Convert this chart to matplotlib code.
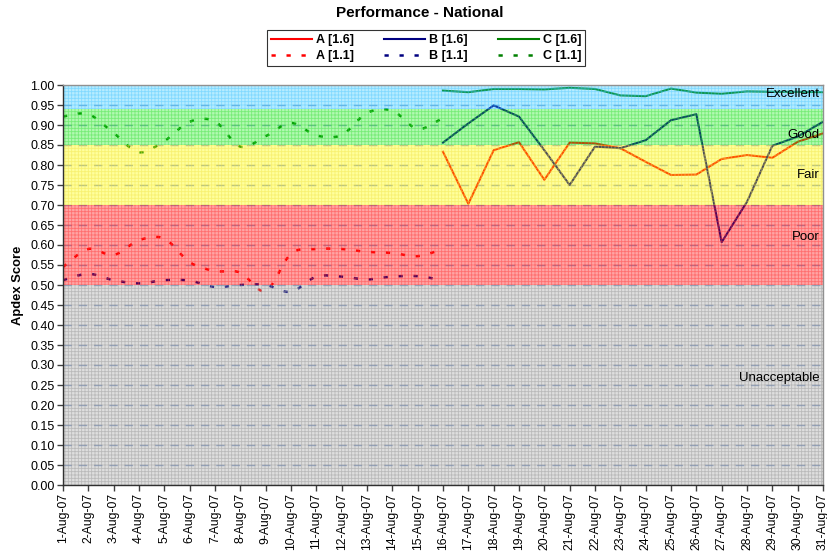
import numpy as np
import matplotlib
matplotlib.use("Agg")
import matplotlib.pyplot as plt
from matplotlib.path import Path
from matplotlib.patches import PathPatch, Rectangle
from matplotlib.lines import Line2D
from matplotlib.transforms import blended_transform_factory

plt.rcParams['font.family'] = ['Liberation Sans', 'DejaVu Sans']
plt.rcParams['hatch.linewidth'] = 0.6

# ---- data -------------------------------------------------------------
day_labels = [f"{d}-Aug-07" for d in range(1, 32)]

# release 1.1 (1-Aug .. 16-Aug)
days_11 = list(range(0, 16))
a_11 = [0.545, 0.590, 0.575, 0.612, 0.616, 0.557, 0.535, 0.531,
        0.485, 0.578, 0.590, 0.590, 0.583, 0.580, 0.572, 0.590]
b_11 = [0.512, 0.528, 0.512, 0.504, 0.512, 0.511, 0.495, 0.500,
        0.500, 0.483, 0.521, 0.521, 0.514, 0.521, 0.522, 0.512]
c_11 = [0.921, 0.927, 0.880, 0.832, 0.860, 0.908, 0.909, 0.846,
        0.872, 0.905, 0.874, 0.875, 0.930, 0.936, 0.890, 0.918]

# release 1.6 (16-Aug .. 31-Aug)
days_16 = list(range(15, 31))
a_16 = [0.833, 0.703, 0.837, 0.857, 0.763, 0.856, 0.854, 0.842,
        0.808, 0.775, 0.776, 0.815, 0.825, 0.818, 0.858, 0.879]
b_16 = [0.856, 0.904, 0.949, 0.921, 0.837, 0.750, 0.846, 0.842,
        0.862, 0.912, 0.927, 0.607, 0.708, 0.848, 0.871, 0.908]
c_16 = [0.986, 0.982, 0.990, 0.990, 0.989, 0.993, 0.990, 0.974,
        0.972, 0.991, 0.981, 0.978, 0.984, 0.983, 0.983, 0.982]

# Apdex bands: (name, lower, upper, base, tint, grid)
bands = [
    ("Excellent",    0.94, 1.00, "#f0faff", "#33ccff", "#44c4ff"),
    ("Good",         0.85, 0.94, "#f0fff0", "#22ee22", "#33dd33"),
    ("Fair",         0.70, 0.85, "#ffffe0", "#ffff00", "#f0e040"),
    ("Poor",         0.50, 0.70, "#ffe4e4", "#ff1010", "#ff3030"),
    ("Unacceptable", 0.00, 0.50, "#f6f6f6", "#a8a8a8", "#909090"),
]
band_label_y = [0.9775, 0.875, 0.775, 0.62, 0.2675]

colors = {"A": "#ff0000", "B": "#000080", "C": "#008000"}


def smooth_path(x, y):
    """Cubic Bezier path through the points (Catmull-Rom style)."""
    pts = np.column_stack([x, y]).astype(float)
    n = len(pts)
    verts = [pts[0]]
    codes = [Path.MOVETO]
    for i in range(n - 1):
        p0 = pts[i - 1] if i > 0 else pts[i]
        p1, p2 = pts[i], pts[i + 1]
        p3 = pts[i + 2] if i + 2 < n else pts[i + 1]
        verts += [p1 + (p2 - p0) / 6.0, p2 - (p3 - p1) / 6.0, p2]
        codes += [Path.CURVE4] * 3
    return Path(verts, codes)


fig = plt.figure(figsize=(8.28, 5.55), dpi=100)
ax = fig.add_axes([63 / 828, 1 - 485 / 555, 760 / 828, 400 / 555])
ax.set_xlim(0, 30)
ax.set_ylim(0, 1)

# opaque band base
for name, lo, hi, base, tint, grid in bands:
    ax.add_patch(Rectangle((0, lo), 30, hi - lo, facecolor=base,
                           edgecolor='none', zorder=0))

# dashed horizontal gridlines
for v in np.arange(0.05, 1.0, 0.05):
    ax.axhline(v, color="#8fa6cf", lw=1.0, ls=(0, (6, 5)), zorder=1)

dash_lw = 1.8
dash = (0, (1.7, 4.3))
lw = 1.5
for key, vals in (("A", a_11), ("B", b_11), ("C", c_11)):
    ax.add_patch(PathPatch(smooth_path(days_11, vals), facecolor='none',
                           edgecolor=colors[key], lw=dash_lw, linestyle=dash,
                           capstyle='butt', zorder=2))
for key, vals in (("A", a_16), ("B", b_16), ("C", c_16)):
    ax.plot(days_16, vals, color=colors[key], lw=lw, zorder=2,
            solid_joinstyle='round')

# translucent tint + fine grid pattern over everything
for name, lo, hi, base, tint, grid in bands:
    ax.add_patch(Rectangle((0, lo), 30, hi - lo, facecolor=tint, alpha=0.3,
                           edgecolor='none', zorder=3))
    ax.add_patch(Rectangle((0, lo), 30, hi - lo, facecolor='none',
                           edgecolor=matplotlib.colors.to_rgba(grid, 0.45),
                           lw=0, hatch='+++++', zorder=3))

trans = blended_transform_factory(ax.transAxes, ax.transData)
for (name, *_), yv in zip(bands, band_label_y):
    ax.text(0.996, yv, name, transform=trans, ha='right', va='center',
            fontsize=9.5, color='black', zorder=4)

# axes
ax.set_yticks(np.arange(0, 1.0001, 0.05))
ax.set_yticklabels([f"{v:.2f}" for v in np.arange(0, 1.0001, 0.05)],
                   fontsize=9)
ax.set_xticks(range(31))
ax.set_xticklabels(day_labels, rotation=90, fontsize=8.7)
ax.tick_params(axis='both', direction='out', length=4, width=1,
               color='#404040', pad=2)
for side in ('top', 'right'):
    ax.spines[side].set_color('#909090')
    ax.spines[side].set_linewidth(1.0)
for side in ('left', 'bottom'):
    ax.spines[side].set_color('#303030')
    ax.spines[side].set_linewidth(1.0)
for s in ax.spines.values():
    s.set_zorder(5)

fig.text(18 / 828, 1 - 285 / 555, "Apdex Score", rotation=90,
         ha='center', va='center', fontsize=9.4, fontweight='bold')
fig.text(420 / 828, 1 - 13 / 555, "Performance - National",
         ha='center', va='center', fontsize=11, fontweight='bold')

handles, labels = [], []
for key in ("A", "B", "C"):
    handles.append(Line2D([], [], color=colors[key], lw=lw))
    labels.append(f"{key} [1.6]")
    handles.append(Line2D([], [], color=colors[key], lw=dash_lw, ls=dash))
    labels.append(f"{key} [1.1]")
leg = fig.legend(handles, labels, ncol=3, loc='center',
                 bbox_to_anchor=(426 / 828, 1 - 48 / 555),
                 prop={'size': 9, 'weight': 'bold'}, frameon=True,
                 fancybox=False, edgecolor='black', handlelength=3.3,
                 handletextpad=0.3, columnspacing=2.4, labelspacing=0.3,
                 borderpad=0.3, borderaxespad=0)
leg.get_frame().set_linewidth(0.8)

fig.savefig("out.png", dpi=100)
